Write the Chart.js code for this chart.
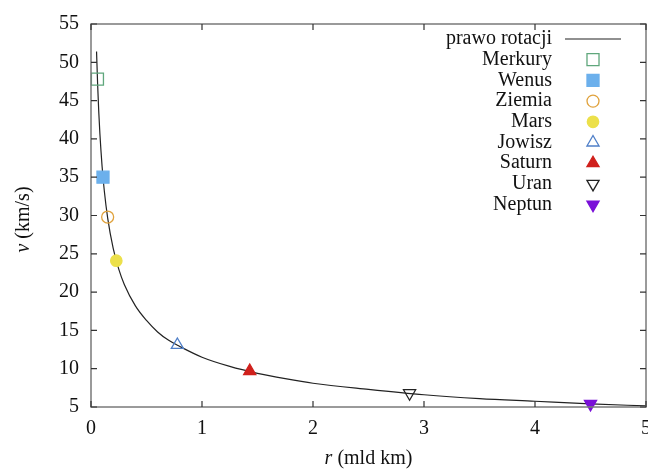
<!DOCTYPE html>
<html><head><meta charset="utf-8">
<script src="https://cdn.jsdelivr.net/npm/chart.js@4/dist/chart.umd.min.js"></script>
<style>html,body{margin:0;padding:0;background:#fff}#wrap{width:648px;height:470px}</style>
</head><body><div id="wrap"><canvas id="c" width="648" height="470"></canvas></div>
<script>
// curve
const curveR = [0.05,0.06,0.07,0.08,0.1,0.12,0.15,0.2,0.25,0.3,0.4,0.5,0.6,0.7,0.8,1.0,1.25,1.5,1.75,2.0,2.5,3.0,3.5,4.0,4.5,5.0];
const curveV = [51.4,47.0,43.5,40.7,36.4,33.2,29.7,25.7,23.0,21.0,18.2,16.3,14.8,13.7,12.9,11.5,10.3,9.4,8.7,8.1,7.3,6.6,6.1,5.75,5.4,5.15];
// planets
const planetNames = ['Merkury','Wenus','Ziemia','Mars','Jowisz','Saturn','Uran','Neptun'];
const planetR = [0.058,0.108,0.15,0.228,0.778,1.43,2.87,4.5];
const planetV = [47.8,35.0,29.8,24.1,13.1,9.7,6.8,5.4];
const xTicks = [0,1,2,3,4,5];
const yTicks = [5,10,15,20,25,30,35,40,45,50,55];

const styles = [
  {pointStyle:'rect', bg:'rgba(0,0,0,0)', border:'#5fa77c', radius:8.5, rot:0},
  {pointStyle:'rect', bg:'#6cb0ec', border:'#6cb0ec', radius:8.5, rot:0},
  {pointStyle:'circle', bg:'rgba(0,0,0,0)', border:'#e0a23c', radius:6, rot:0},
  {pointStyle:'circle', bg:'#ece04a', border:'#ece04a', radius:5.7, rot:0},
  {pointStyle:'triangle', bg:'rgba(0,0,0,0)', border:'#4f7fc8', radius:7, rot:0},
  {pointStyle:'triangle', bg:'#d0201c', border:'#d0201c', radius:7, rot:0},
  {pointStyle:'triangle', bg:'rgba(0,0,0,0)', border:'#222', radius:7, rot:180},
  {pointStyle:'triangle', bg:'#7a10d8', border:'#7a10d8', radius:7, rot:180}
];

const datasets = [{
  label:'prawo rotacji', type:'line',
  data: curveR.map((r,i)=>({x:r,y:curveV[i]})),
  borderColor:'#222', borderWidth:1.2, pointRadius:0, cubicInterpolationMode:'monotone', fill:false, order:2
}];
planetNames.forEach((n,i)=>{
  const s = styles[i];
  datasets.push({label:n, type:'scatter', data:[{x:planetR[i],y:planetV[i]}],
    pointStyle:s.pointStyle, backgroundColor:s.bg, borderColor:s.border, borderWidth:1.3,
    pointRadius:s.radius, rotation:s.rot, order:1, clip:false});
});

const FONT = '"Liberation Serif","DejaVu Serif",serif';

function drawMixed(ctx, parts, x, y){
  let total=0;
  parts.forEach(p=>{ctx.font=(p[1]?'italic ':'')+'20px '+FONT; total+=ctx.measureText(p[0]).width;});
  let cx=x-total/2;
  ctx.textAlign='left';
  parts.forEach(p=>{ctx.font=(p[1]?'italic ':'')+'20px '+FONT; ctx.fillText(p[0],cx,y); cx+=ctx.measureText(p[0]).width;});
}

const framePlugin = {
  id:'frame',
  afterDatasetsDraw(chart){
    const {ctx, chartArea:a, scales:{x,y}} = chart;
    ctx.save();
    ctx.strokeStyle='#7a7a7a'; ctx.lineWidth=1.5;
    ctx.strokeRect(a.left,a.top,a.right-a.left,a.bottom-a.top);
    ctx.strokeStyle='#333'; ctx.lineWidth=1.2;
    const L=6;
    xTicks.forEach(v=>{const px=x.getPixelForValue(v);
      ctx.beginPath();ctx.moveTo(px,a.bottom);ctx.lineTo(px,a.bottom-L);ctx.moveTo(px,a.top);ctx.lineTo(px,a.top+L);ctx.stroke();});
    yTicks.forEach(v=>{const py=y.getPixelForValue(v);
      ctx.beginPath();ctx.moveTo(a.left,py);ctx.lineTo(a.left+L,py);ctx.moveTo(a.right,py);ctx.lineTo(a.right-L,py);ctx.stroke();});
    ctx.fillStyle='#111'; ctx.textBaseline='middle'; ctx.textAlign='center';
    ctx.font='20px '+FONT;
    xTicks.forEach(v=>{ctx.fillText(String(v),x.getPixelForValue(v),a.bottom+22);});
    drawMixed(ctx,[['r',true],[' (mld km)',false]],(a.left+a.right)/2,459);
    ctx.save(); ctx.translate(24,(a.top+a.bottom)/2+4); ctx.rotate(-Math.PI/2);
    drawMixed(ctx,[['v',true],[' (km/s)',false]],0,0);
    ctx.restore();
    ctx.font='20px '+FONT; ctx.textAlign='right'; ctx.textBaseline='middle';
    const tx=552, mx=593, y0=39, dy=20.7;
    chart.data.datasets.forEach((d,i)=>{
      const yy=y0+i*dy;
      ctx.fillStyle='#111';
      ctx.fillText(d.label,tx,yy);
      if(i===0){ctx.strokeStyle='#222';ctx.lineWidth=1.2;ctx.beginPath();ctx.moveTo(565,yy);ctx.lineTo(621,yy);ctx.stroke();}
      else{
        ctx.fillStyle=d.backgroundColor; ctx.strokeStyle=d.borderColor; ctx.lineWidth=1.3;
        Chart.helpers.drawPoint(ctx,{pointStyle:d.pointStyle,rotation:d.rotation,radius:d.pointRadius,borderWidth:1.3},mx,yy);
      }
    });
    ctx.restore();
  }
};

new Chart(document.getElementById('c'),{
  data:{datasets},
  options:{
    responsive:false, animation:false, devicePixelRatio:1,
    layout:{autoPadding:false,padding:{top:21,right:2,left:0,bottom:0}},
    plugins:{legend:{display:false},tooltip:{enabled:false}},
    scales:{
      x:{type:'linear',min:0,max:5,
        afterBuildTicks(s){s.ticks=xTicks.map(v=>({value:v}));},
        afterFit(s){s.height=63;},
        grid:{display:false,drawTicks:false},border:{display:false},
        ticks:{display:false},
        title:{display:false}
      },
      y:{type:'linear',min:5,max:55,
        afterBuildTicks(s){s.ticks=yTicks.map(v=>({value:v}));},
        afterFit(s){s.width=91;},
        grid:{display:false,drawTicks:false},border:{display:false},
        ticks:{font:{family:FONT,size:20},color:'#111',padding:12},
        title:{display:false}
      }
    }
  },
  plugins:[framePlugin]
});
</script></body></html>
